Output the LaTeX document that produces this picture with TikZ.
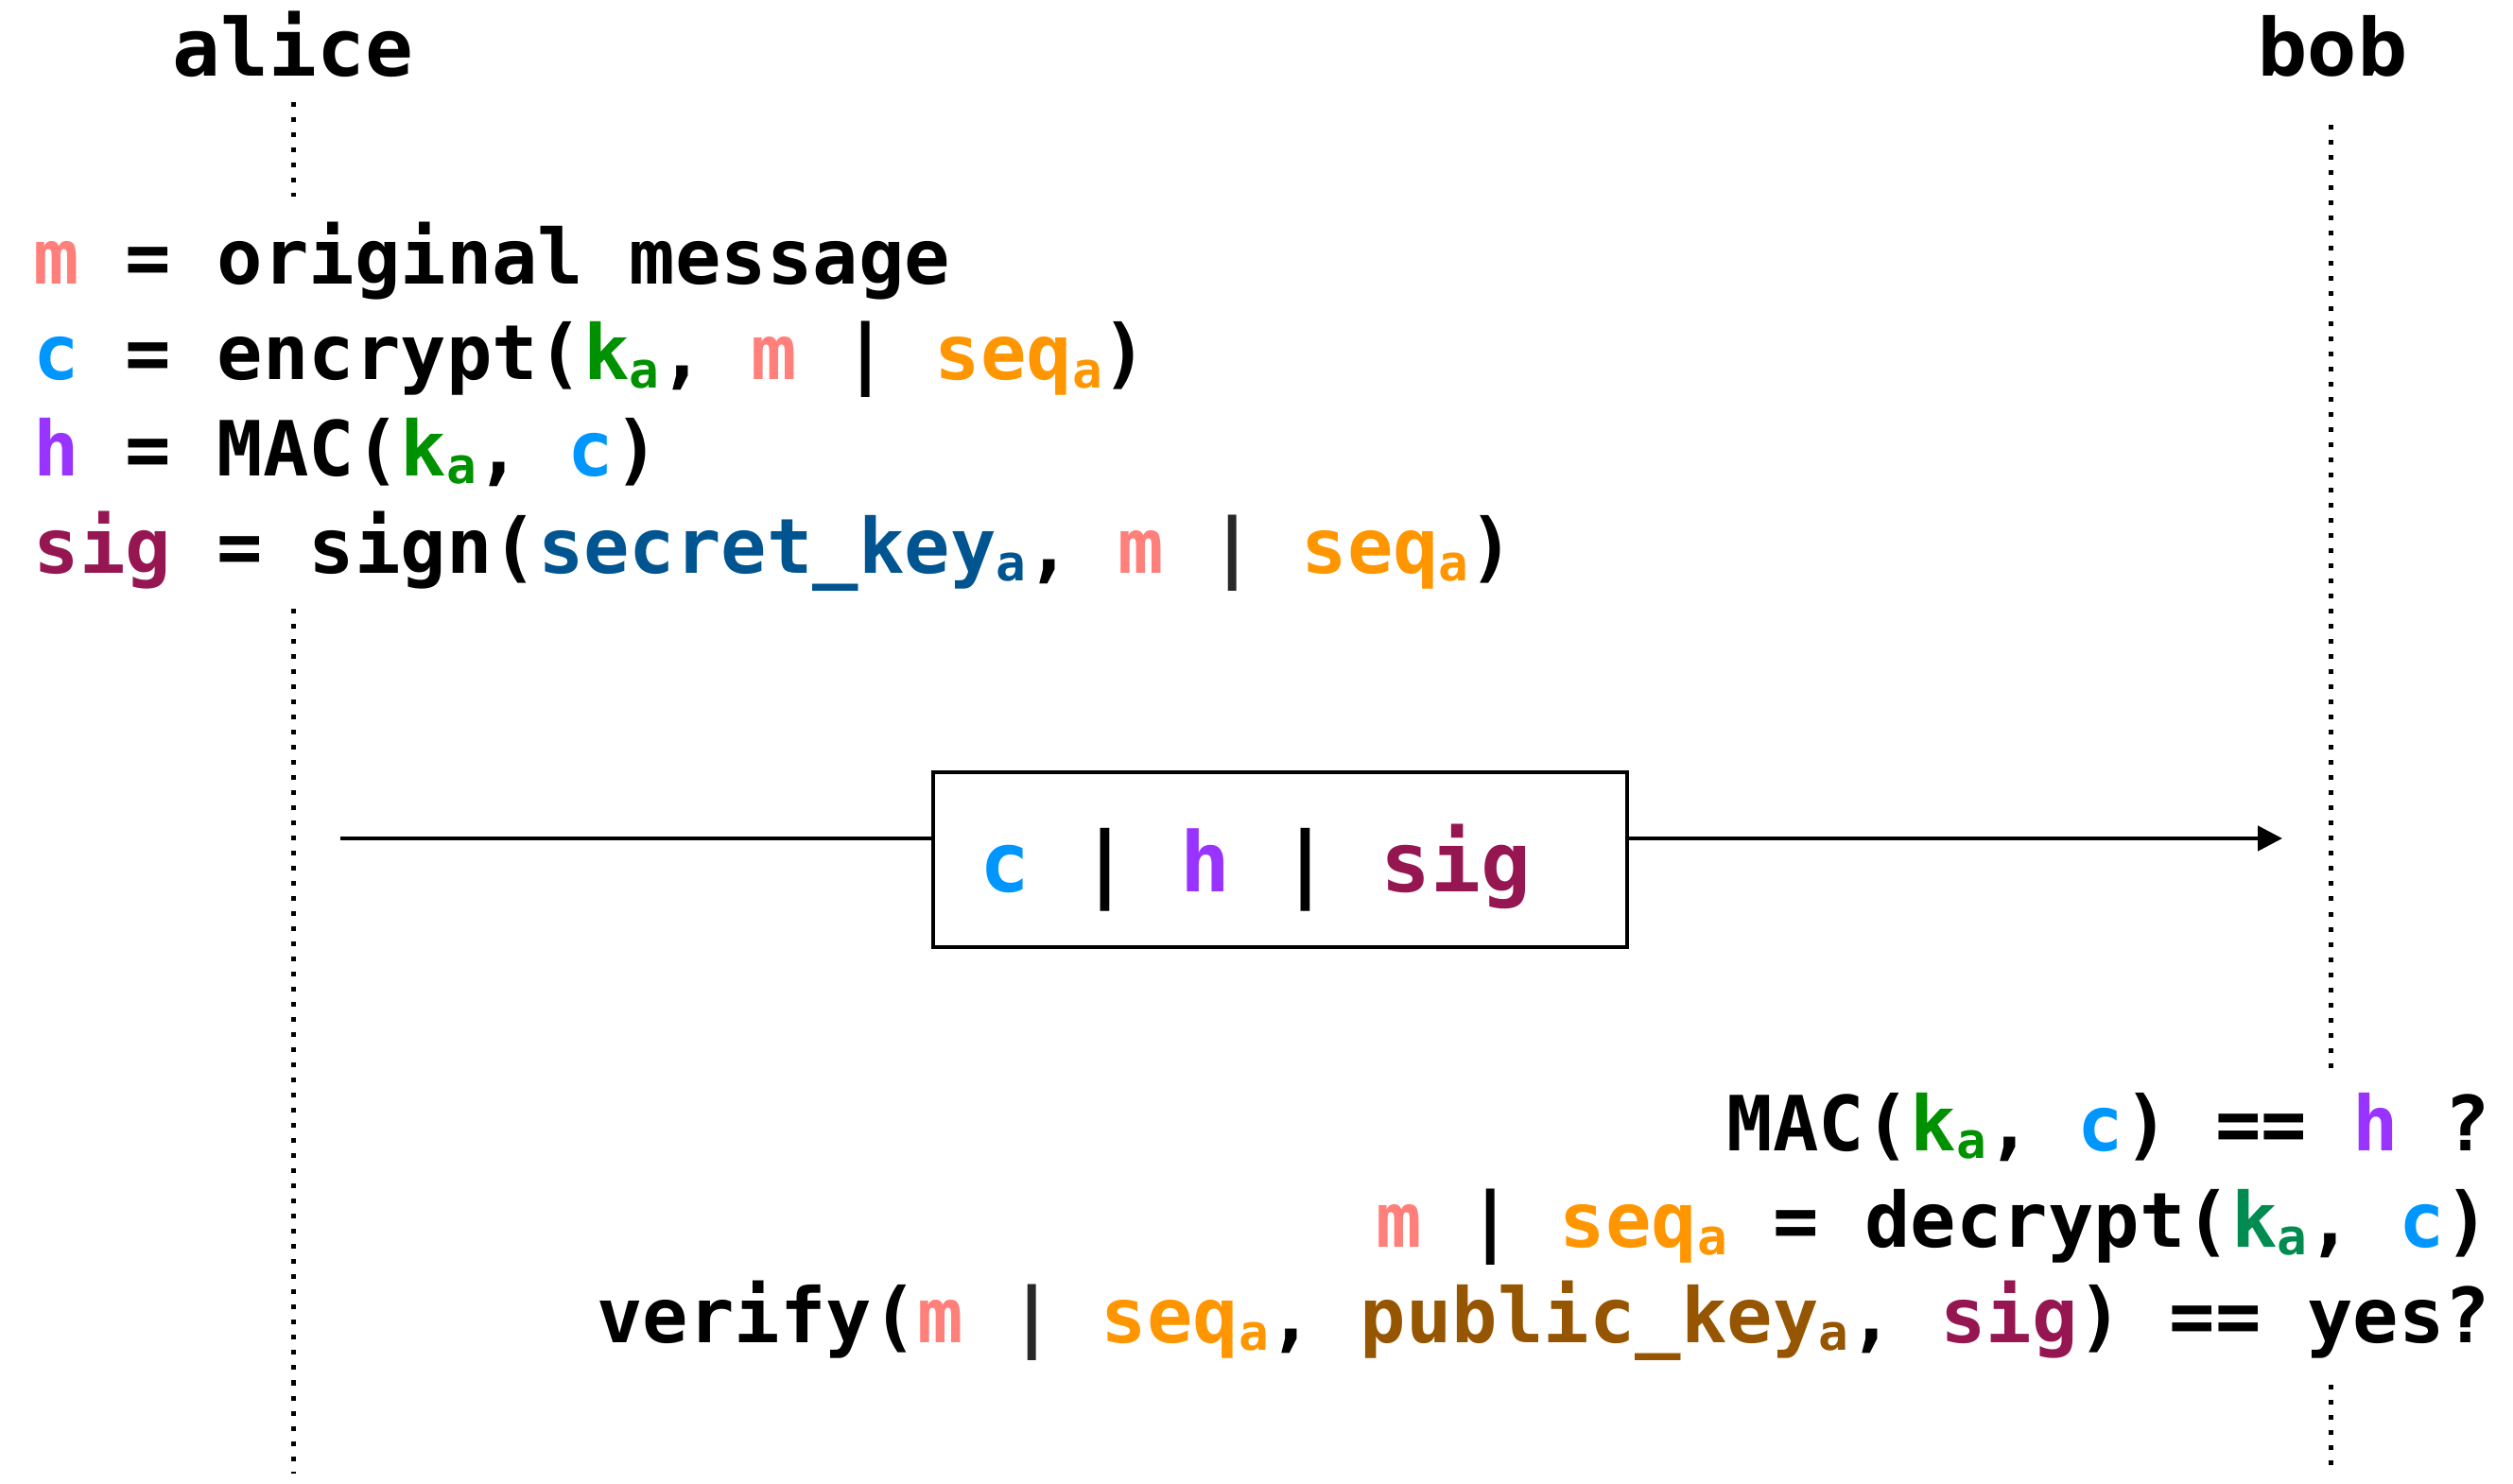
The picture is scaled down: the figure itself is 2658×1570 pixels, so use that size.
\documentclass[tikz,border=0pt]{standalone}
\usepackage{fontspec}
\setmonofont{DejaVu Sans Mono}
\newfontfamily\bobfont{Open Sans}
\usetikzlibrary{arrows.meta}
\definecolor{cm}{RGB}{255,128,122}
\definecolor{cc}{RGB}{0,150,255}
\definecolor{ch}{RGB}{153,51,255}
\definecolor{csig}{RGB}{150,22,82}
\definecolor{ck}{RGB}{0,145,0}
\definecolor{ckd}{RGB}{0,140,80}
\definecolor{cseq}{RGB}{255,150,0}
\definecolor{csk}{RGB}{0,85,145}
\definecolor{cpk}{RGB}{150,85,0}
\definecolor{cbar}{RGB}{40,40,40}
\newcommand{\sbA}{\raisebox{-0.08cm}{\fontsize{15}{15}\selectfont a}}
\begin{document}
\begin{tikzpicture}[x=0.01cm,y=-0.01cm,
  txt/.style={inner sep=0pt, font=\ttfamily\bfseries\fontsize{22.9}{27}\selectfont},
  life/.style={line width=0.05cm, dash pattern=on 0.05cm off 0.11cm},
  msgline/.style={line width=0.045cm, -{Triangle[length=0.26cm,width=0.26cm]}},
  msgbox/.style={draw, line width=0.045cm, fill=white, inner xsep=0.50cm, inner ysep=0pt,
    text height=1.26cm, text depth=0.59cm, font=\ttfamily\bfseries\fontsize{25}{30}\selectfont}]
\useasboundingbox (0,0) rectangle (2658,1570);
% actors
\node[txt, font=\ttfamily\bfseries\fontsize{24}{28}\selectfont, anchor=base] (alice) at (310,81) {alice};
\node[inner sep=0pt, font=\bobfont\bfseries\fontsize{24}{28}\selectfont, anchor=base] (bob) at (2467,81) {bob};
% lifelines
\coordinate (a1) at (310,108); \coordinate (a2) at (310,208);
\coordinate (a3) at (310,644); \coordinate (a4) at (310,1559);
\coordinate (b1) at (2465,132); \coordinate (b2) at (2465,1133);
\coordinate (b3) at (2465,1465); \coordinate (b4) at (2465,1559);
\draw[life] (a1) -- (a2);
\draw[life] (a3) -- (a4);
\draw[life] (b1) -- (b2);
\draw[life] (b3) -- (b4);
% alice computations
\node[txt, anchor=base west] (l1) at (35,301) {{\color{cm}m} = original message};
\node[txt, anchor=base west] (l2) at (35,402) {{\color{cc}c} = encrypt({\color{ck}k\sbA}, {\color{cm}m} | {\color{cseq}seq\sbA})};
\node[txt, anchor=base west] (l3) at (35,503) {{\color{ch}h} = MAC({\color{ck}k\sbA}, {\color{cc}c})};
\node[txt, anchor=base west] (l4) at (35,606) {{\color{csig}sig} = sign({\color{csk}secret\_key\sbA}, {\color{cm}m} {\color{cbar}|} {\color{cseq}seq\sbA})};
% message
\coordinate (ms) at (360,887);
\coordinate (me) at (2414,887);
\draw[msgline] (ms) -- (me);
\node[msgbox, anchor=base] (msg) at (1354,943) {{\color{cc}c} | {\color{ch}h} | {\color{csig}sig}\rule{0.52cm}{0pt}};
% bob computations
\node[txt, anchor=base east] (r1) at (2635,1217) {MAC({\color{ck}k\sbA}, {\color{cc}c}) == {\color{ch}h} ?};
\node[txt, anchor=base east] (r2) at (2635,1319) {{\color{cm}m} | {\color{cseq}seq\sbA} = decrypt({\color{ckd}k\sbA}, {\color{cc}c})};
\node[txt, anchor=base east] (r3) at (2635,1420) {verify({\color{cm}m} {\color{cbar}|} {\color{cseq}seq\sbA}, {\color{cpk}public\_key\sbA}, {\color{csig}sig}) == yes?};
\end{tikzpicture}
\end{document}
